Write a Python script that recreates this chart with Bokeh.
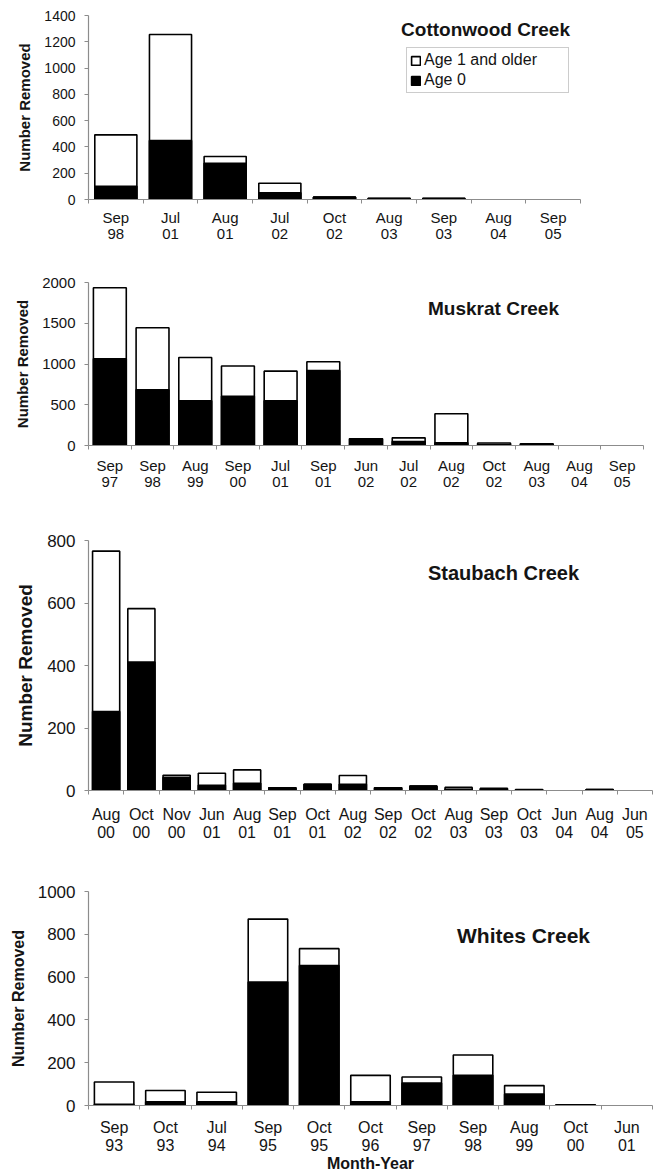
import numpy as np
from bokeh.plotting import figure
from bokeh.models import (Range1d, LinearAxis, FixedTicker, Label,
                          Legend, LegendItem, ColumnDataSource)
from bokeh.layouts import column
from bokeh.embed import file_html
from bokeh.resources import INLINE

# ---------------- data ----------------
cw_months = ["Sep", "Jul", "Aug", "Jul", "Oct", "Aug", "Sep", "Aug", "Sep"]
cw_years = ["98", "01", "01", "02", "02", "03", "03", "04", "05"]
cw_total = [492, 1255, 327, 124, 18, 10, 10, 0, 0]
cw_age0 = [101, 448, 275, 51, 18, 7, 7, 0, 0]
cw_yticks = [0, 200, 400, 600, 800, 1000, 1200, 1400]

mk_months = ["Sep", "Sep", "Aug", "Sep", "Jul", "Sep", "Jun", "Jul", "Aug", "Oct", "Aug", "Aug", "Sep"]
mk_years = ["97", "98", "99", "00", "01", "01", "02", "02", "02", "02", "03", "04", "05"]
mk_total = [1935, 1445, 1080, 975, 912, 1027, 82, 94, 389, 30, 22, 0, 0]
mk_age0 = [1064, 683, 548, 605, 548, 920, 82, 49, 33, 12, 10, 0, 0]
mk_yticks = [0, 500, 1000, 1500, 2000]

sb_months = ["Aug", "Oct", "Nov", "Jun", "Aug", "Sep", "Oct", "Aug", "Sep", "Oct",
             "Aug", "Sep", "Oct", "Jun", "Aug", "Jun"]
sb_years = ["00", "00", "00", "01", "01", "01", "01", "02", "02", "02",
            "03", "03", "03", "04", "04", "05"]
sb_total = [766, 582, 49, 55, 66, 9, 20, 48, 9, 14, 10, 7, 3, 0, 3, 0]
sb_age0 = [253, 411, 42, 17, 23, 9, 20, 20, 9, 14, 4, 3, 2, 0, 3, 0]
sb_yticks = [0, 200, 400, 600, 800]

wc_months = ["Sep", "Oct", "Jul", "Sep", "Oct", "Oct", "Sep", "Sep", "Aug", "Oct", "Jun"]
wc_years = ["93", "93", "94", "95", "95", "96", "97", "98", "99", "00", "01"]
wc_total = [110, 70, 62, 871, 733, 141, 133, 236, 93, 3, 0]
wc_age0 = [6, 17, 17, 577, 654, 17, 105, 141, 53, 2, 0]
wc_yticks = [0, 200, 400, 600, 800, 1000]

legend_labels = ["Age 1 and older", "Age 0"]
y_title = "Number Removed"
x_title = "Month-Year"

FONT = "Liberation Sans"
TXT = "#141414"
AX = "#8c8c8c"
W = 656
LEFT = 88


def make_panel(title, months, years, total, age0, yticks, top, frame_h, bottom,
               frame_w, title_xy, title_size, ytick_size, xtick_size, ylab_size,
               month_standoff, legend_loc=None, xlabel=None):
    n = len(months)
    idx = list(range(n))  # category positions
    p = figure(x_range=Range1d(-0.5, n - 0.5), y_range=Range1d(yticks[0], yticks[-1]),
               width=W, height=top + frame_h + bottom,
               min_border_left=LEFT, min_border_right=W - LEFT - frame_w,
               min_border_top=top, min_border_bottom=bottom,
               x_axis_location=None, output_backend="svg", toolbar_location=None)
    p.frame_align = False
    p.outline_line_color = None
    p.grid.grid_line_color = None
    p.background_fill_color = "white"

    src = ColumnDataSource(dict(x=idx, label=[f"{m} {y}" for m, y in zip(months, years)],
                                total=total, age0=age0,
                                la=[1.0 if t > 0 else 0.0 for t in total]))
    r_tot = p.vbar(x="x", top="total", width=0.77, source=src, fill_color="white",
                   line_color="black", line_alpha="la", line_width=1.6)
    r_age = p.vbar(x="x", top="age0", width=0.77, source=src, fill_color="black",
                   line_color="black", line_alpha="la", line_width=1.6)

    # y axis
    ya = p.yaxis[0]
    ya.ticker = FixedTicker(ticks=yticks)
    ya.axis_line_color = AX
    ya.axis_line_width = 1.2
    ya.major_tick_line_color = AX
    ya.major_tick_out = 4
    ya.major_tick_in = 0
    ya.minor_tick_line_color = None
    ya.major_label_standoff = 9
    ya.major_label_text_font = FONT
    ya.major_label_text_font_size = f"{ytick_size}px"
    ya.major_label_text_color = TXT
    ya.axis_label = y_title
    ya.axis_label_text_font = FONT
    ya.axis_label_text_font_style = "bold"
    ya.axis_label_text_font_size = f"{ylab_size}px"
    ya.axis_label_text_color = TXT
    ya.axis_label_standoff = 8

    # x axes: months (with boundary ticks) and years below
    bounds = [i - 0.5 for i in range(n + 1)]
    xa = LinearAxis(ticker=FixedTicker(ticks=idx, minor_ticks=bounds),
                    major_label_overrides={i: m for i, m in enumerate(months)})
    xa.axis_line_color = AX
    xa.axis_line_width = 1.2
    xa.major_tick_line_color = None
    xa.major_tick_out = 0
    xa.major_tick_in = 0
    xa.minor_tick_line_color = AX
    xa.minor_tick_out = 4
    xa.minor_tick_in = 0
    xa.major_label_standoff = month_standoff
    xa.major_label_text_font = FONT
    xa.major_label_text_font_size = f"{xtick_size}px"
    xa.major_label_text_color = TXT
    p.add_layout(xa, "below")

    xy = LinearAxis(ticker=FixedTicker(ticks=idx),
                    major_label_overrides={i: y for i, y in enumerate(years)})
    xy.axis_line_color = None
    xy.major_tick_line_color = None
    xy.minor_tick_line_color = None
    xy.major_tick_out = 0
    xy.major_tick_in = 0
    xy.major_label_standoff = 0
    xy.major_label_text_font = FONT
    xy.major_label_text_font_size = f"{xtick_size}px"
    xy.major_label_text_color = TXT
    if xlabel:
        xy.axis_label = xlabel
        xy.axis_label_standoff = 1
        xy.axis_label_text_font = FONT
        xy.axis_label_text_font_style = "bold"
        xy.axis_label_text_font_size = "16px"
        xy.axis_label_text_color = TXT
    p.add_layout(xy, "below")

    p.add_layout(Label(x=title_xy[0], y=title_xy[1], x_units="screen", y_units="screen",
                       text=title, text_align="center", text_baseline="middle",
                       text_font=FONT, text_font_style="bold",
                       text_font_size=f"{title_size}px", text_color=TXT))

    if legend_loc is not None:
        leg = Legend(items=[LegendItem(label=legend_labels[0], renderers=[r_tot]),
                            LegendItem(label=legend_labels[1], renderers=[r_age])],
                     location=legend_loc, padding=3, margin=0, spacing=2,
                     glyph_width=11, glyph_height=11, label_standoff=3,
                     label_width=141, label_height=17,
                     label_text_font=FONT, label_text_font_size="16px",
                     label_text_color=TXT, border_line_color="#9a9a9a",
                     border_line_width=1, background_fill_color="white")
        p.add_layout(leg)
    return p


p1 = make_panel("Cottonwood Creek", cw_months, cw_years, cw_total, cw_age0, cw_yticks,
                top=15, frame_h=184, bottom=63, frame_w=492, title_xy=(397, 170),
                title_size=19, ytick_size=14, xtick_size=15, ylab_size=15,
                month_standoff=5, legend_loc=(318, 106))
p2 = make_panel("Muskrat Creek", mk_months, mk_years, mk_total, mk_age0, mk_yticks,
                top=20, frame_h=163, bottom=75, frame_w=555, title_xy=(405, 137),
                title_size=19, ytick_size=15, xtick_size=15, ylab_size=15,
                month_standoff=7)
p3 = make_panel("Staubach Creek", sb_months, sb_years, sb_total, sb_age0, sb_yticks,
                top=20, frame_h=250, bottom=81, frame_w=564, title_xy=(415, 218),
                title_size=20, ytick_size=17, xtick_size=16, ylab_size=19,
                month_standoff=11)
p4 = make_panel("Whites Creek", wc_months, wc_years, wc_total, wc_age0, wc_yticks,
                top=20, frame_h=215, bottom=68, frame_w=564, title_xy=(435, 170),
                title_size=21, ytick_size=17, xtick_size=16, ylab_size=16,
                month_standoff=9, xlabel=x_title)

layout = column(p1, p2, p3, p4, spacing=0)
open("out.html", "w").write(file_html(layout, INLINE))
